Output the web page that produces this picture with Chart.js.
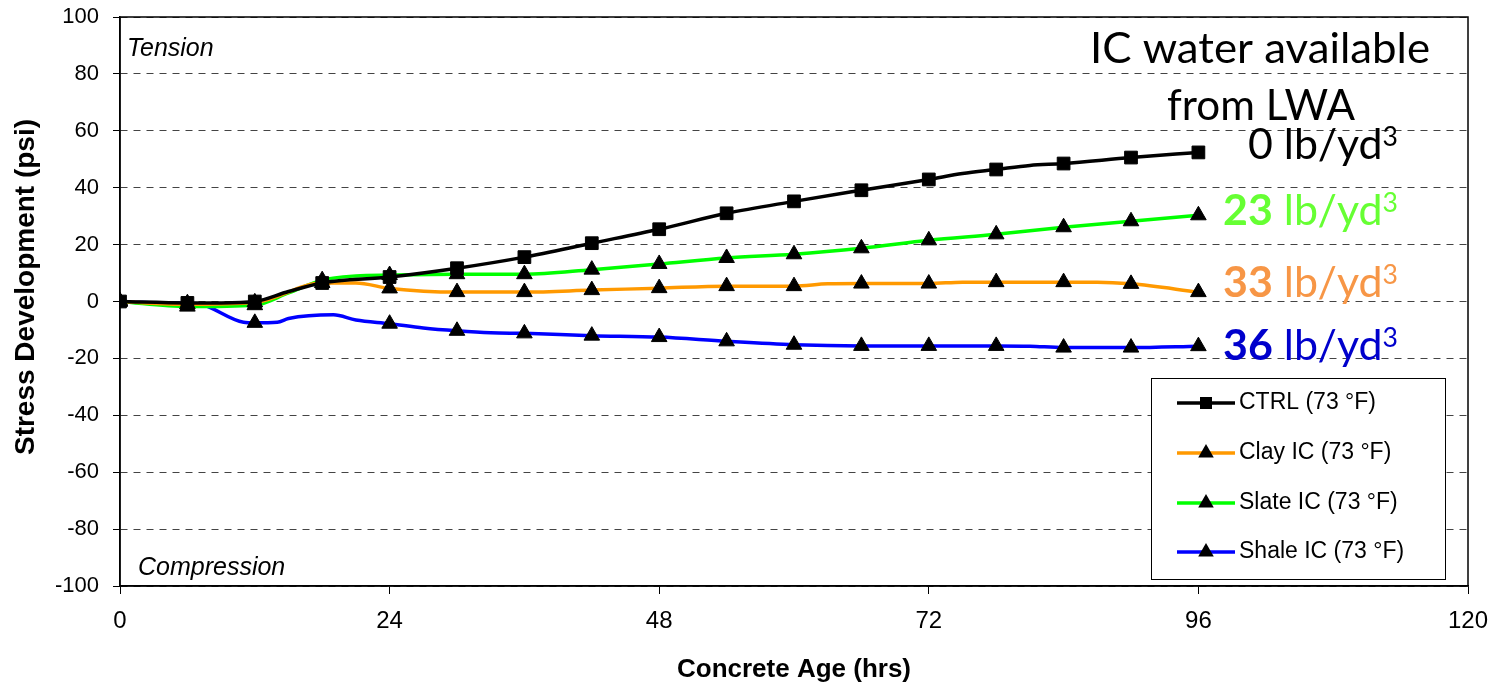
<!DOCTYPE html>
<html lang="en">
<head>
  <meta charset="UTF-8">
  <title>Stress Development vs Concrete Age</title>
  <script src="https://cdn.jsdelivr.net/npm/chart.js"></script>
  <style>
    html, body { margin: 0; padding: 0; background: #fff; }
    #chart-container { width: 1496px; height: 685px; position: relative; }
  </style>
</head>
<body>
<div id="chart-container">
  <canvas id="stressChart"></canvas>
</div>

<script>
// values (hours, psi)
const ctrlHours   = [0, 6, 9, 12, 15, 18, 24, 30, 36, 42, 48, 54, 60, 66, 72, 75, 78, 81, 84, 90, 96];
const ctrlStress  = [0, -0.5, -0.5, 0, 3.5, 6.5, 8.6, 11.7, 15.6, 20.5, 25.4, 31, 35.2, 39.1, 42.9, 45, 46.4, 47.8, 48.5, 50.6, 52.4];

const clayHours   = [0, 6, 12, 18, 21, 24, 30, 36, 42, 48, 54, 60, 63, 66, 72, 75, 78, 84, 87, 90, 96];
const clayStress  = [0, -1, -0.3, 6.5, 6.5, 4.6, 3.3, 3.3, 4, 4.7, 5.4, 5.4, 6.2, 6.3, 6.3, 6.8, 6.8, 6.8, 6.8, 6.2, 3.3];

const slateHours  = [0, 6, 12, 15, 18, 21, 24, 30, 36, 42, 48, 54, 60, 66, 72, 78, 84, 90, 96];
const slateStress = [0, -1.8, -1.3, 3, 7.5, 9, 9.3, 9.6, 9.6, 11.2, 13.2, 15.3, 16.6, 18.7, 21.5, 23.6, 26.1, 28.2, 30.3];

const shaleHours  = [0, 3, 6, 7, 11, 12, 14, 15, 19, 21, 24, 27, 30, 33, 36, 42, 48, 54, 60, 66, 72, 78, 81, 84, 90, 96];
const shaleStress = [0, -0.5, -0.6, -0.8, -7.3, -7.5, -7.3, -6, -4.7, -6.5, -7.8, -9.3, -10.3, -11, -11.2, -12, -12.5, -14, -15.2, -15.6, -15.6, -15.6, -15.7, -16.2, -16.2, -15.7];

const xTicks = [0, 24, 48, 72, 96, 120];
const seriesNames = ['CTRL (73 °F)', 'Clay IC (73 °F)', 'Slate IC (73 °F)', 'Shale IC (73 °F)'];
const seriesColors = ['#000000', '#FF9900', '#00FF00', '#0000FF'];
const yTitle = 'Stress Development (psi)';
const xTitle = 'Concrete Age (hrs)';
const waterTitle = ['IC water available', 'from LWA'];
const waterAmounts = ['0', '23', '33', '36'];
const waterColors = ['#000000', '#66FF33', '#F79646', '#0000CC'];

const AXIS_FONT = '"Liberation Sans", Arial, sans-serif';

function series(i, hours, stress, shape, radius) {
    return {
        label: seriesNames[i],
        data: hours.map((h, k) => ({ x: h, y: stress[k] })),
        borderColor: seriesColors[i],
        borderWidth: 3.5,
        cubicInterpolationMode: 'monotone',
        fill: false,
        pointStyle: shape,
        pointRadius: c => (c.raw && c.raw.x % 6 === 0) ? radius : 0,
        pointHoverRadius: 0,
        pointBackgroundColor: '#000',
        pointBorderColor: '#000',
        pointBorderWidth: 1
    };
}

function marker(ctx, shape, x, y) {
    ctx.fillStyle = '#000';
    ctx.beginPath();
    if (shape === 'rect') {
        ctx.rect(x - 6, y - 6, 12, 12);
    } else {
        const r = 9;
        ctx.moveTo(x, y - r);
        ctx.lineTo(x + r * 0.866, y + r / 2);
        ctx.lineTo(x - r * 0.866, y + r / 2);
        ctx.closePath();
    }
    ctx.fill();
}

// draws text pieces squeezed/stretched to a given width
function fitText(ctx, parts, left, baseline, width) {
    let total = 0;
    parts.forEach(p => { ctx.font = p.font; total += ctx.measureText(p.text).width; });
    ctx.save();
    ctx.translate(left, baseline);
    ctx.scale(width / total, 1);
    ctx.textBaseline = 'alphabetic';
    ctx.textAlign = 'left';
    let x = 0;
    parts.forEach(p => {
        ctx.font = p.font;
        ctx.fillStyle = p.color;
        ctx.fillText(p.text, x, p.dy || 0);
        x += ctx.measureText(p.text).width;
    });
    ctx.restore();
}

const extras = {
    id: 'extras',
    beforeDatasetsDraw(chart) {
        const { ctx, chartArea: a } = chart;
        ctx.save();
        ctx.strokeStyle = '#000';
        ctx.lineWidth = 1.5;
        ctx.strokeRect(a.left, a.top, a.right - a.left, a.bottom - a.top);
        ctx.fillStyle = '#000';
        ctx.font = 'italic 25px ' + AXIS_FONT;
        ctx.textBaseline = 'alphabetic';
        ctx.fillText('Tension', 127, 56);
        ctx.fillText('Compression', 138, 575);

        // y axis title, sits a bit above the middle like the original
        ctx.translate(26, 287);
        ctx.rotate(-Math.PI / 2);
        ctx.font = 'bold 28px ' + AXIS_FONT;
        ctx.textAlign = 'center';
        ctx.textBaseline = 'middle';
        ctx.fillText(yTitle, 0, 0);
        ctx.restore();
    },
    afterDraw(chart) {
        const ctx = chart.ctx;
        ctx.save();

        // legend box
        ctx.fillStyle = '#fff';
        ctx.fillRect(1151, 378, 294, 201);
        ctx.strokeStyle = '#000';
        ctx.lineWidth = 1;
        ctx.strokeRect(1151.5, 378.5, 294, 201);
        const rows = [403, 453, 503, 552];
        const shapes = ['rect', 'triangle', 'triangle', 'triangle'];
        rows.forEach((y, i) => {
            ctx.strokeStyle = seriesColors[i];
            ctx.lineWidth = 3.5;
            ctx.beginPath();
            ctx.moveTo(1177, y);
            ctx.lineTo(1235, y);
            ctx.stroke();
            marker(ctx, shapes[i], 1206, y);
            ctx.fillStyle = '#000';
            ctx.font = '23px ' + AXIS_FONT;
            ctx.textBaseline = 'middle';
            ctx.fillText(seriesNames[i], 1239, y);
        });

        // IC water annotation
        const big = '42px Lato, "Open Sans", sans-serif';
        const bold = 'bold 42px Lato, "Open Sans", sans-serif';
        const sup = '26px Lato, "Open Sans", sans-serif';
        fitText(ctx, [{ text: waterTitle[0], font: big, color: '#000' }], 1090, 63, 340);
        fitText(ctx, [{ text: waterTitle[1], font: big, color: '#000' }], 1167, 120, 188);
        const lefts = [1248, 1223, 1223, 1223];
        const widths = [150, 175, 175, 175];
        const bases = [159, 225, 297, 360];
        waterAmounts.forEach((amt, i) => {
            fitText(ctx, [
                { text: amt, font: i === 0 ? big : bold, color: waterColors[i] },
                { text: ' lb/yd', font: big, color: waterColors[i] },
                { text: '3', font: sup, color: waterColors[i], dy: -13 }
            ], lefts[i], bases[i], widths[i]);
        });
        ctx.restore();
    }
};

const ctx = document.getElementById('stressChart').getContext('2d');
new Chart(ctx, {
    type: 'line',
    data: {
        datasets: [
            series(0, ctrlHours, ctrlStress, 'rect', 9),
            series(1, clayHours, clayStress, 'triangle', 9),
            series(2, slateHours, slateStress, 'triangle', 9),
            series(3, shaleHours, shaleStress, 'triangle', 9)
        ]
    },
    options: {
        responsive: true,
        maintainAspectRatio: false,
        animation: false,
        layout: { padding: { top: 17, right: 28, left: 0, bottom: 0 } },
        plugins: {
            legend: { display: false },
            tooltip: { enabled: false }
        },
        scales: {
            x: {
                type: 'linear',
                min: 0,
                max: 120,
                afterBuildTicks: s => { s.ticks = xTicks.map(v => ({ value: v })); },
                afterFit: s => { s.height = 99; s.paddingLeft = 0; s.paddingRight = 0; },
                grid: { drawOnChartArea: false, tickLength: 8, tickColor: '#000', tickWidth: 1 },
                border: { color: '#000', width: 1.5 },
                ticks: {
                    color: '#000',
                    padding: 13,
                    maxRotation: 0,
                    autoSkip: false,
                    font: { family: AXIS_FONT, size: 24 }
                },
                title: {
                    display: true,
                    text: xTitle,
                    color: '#000',
                    font: { family: AXIS_FONT, size: 26, weight: 'bold', lineHeight: 1 },
                    padding: { top: 0, bottom: 2 }
                }
            },
            y: {
                min: -100,
                max: 100,
                afterFit: s => { s.width = 120; s.paddingTop = 0; s.paddingBottom = 0; },
                grid: { color: '#444', lineWidth: 1, tickLength: 7, tickColor: '#000', tickWidth: 1, tickBorderDash: [] },
                border: { color: '#000', width: 1.5, dash: [7, 6] },
                ticks: {
                    stepSize: 20,
                    color: '#000',
                    padding: 14,
                    font: { family: AXIS_FONT, size: 22 }
                },
                title: { display: false }
            }
        }
    },
    plugins: [extras]
});
</script>
</body>
</html>
